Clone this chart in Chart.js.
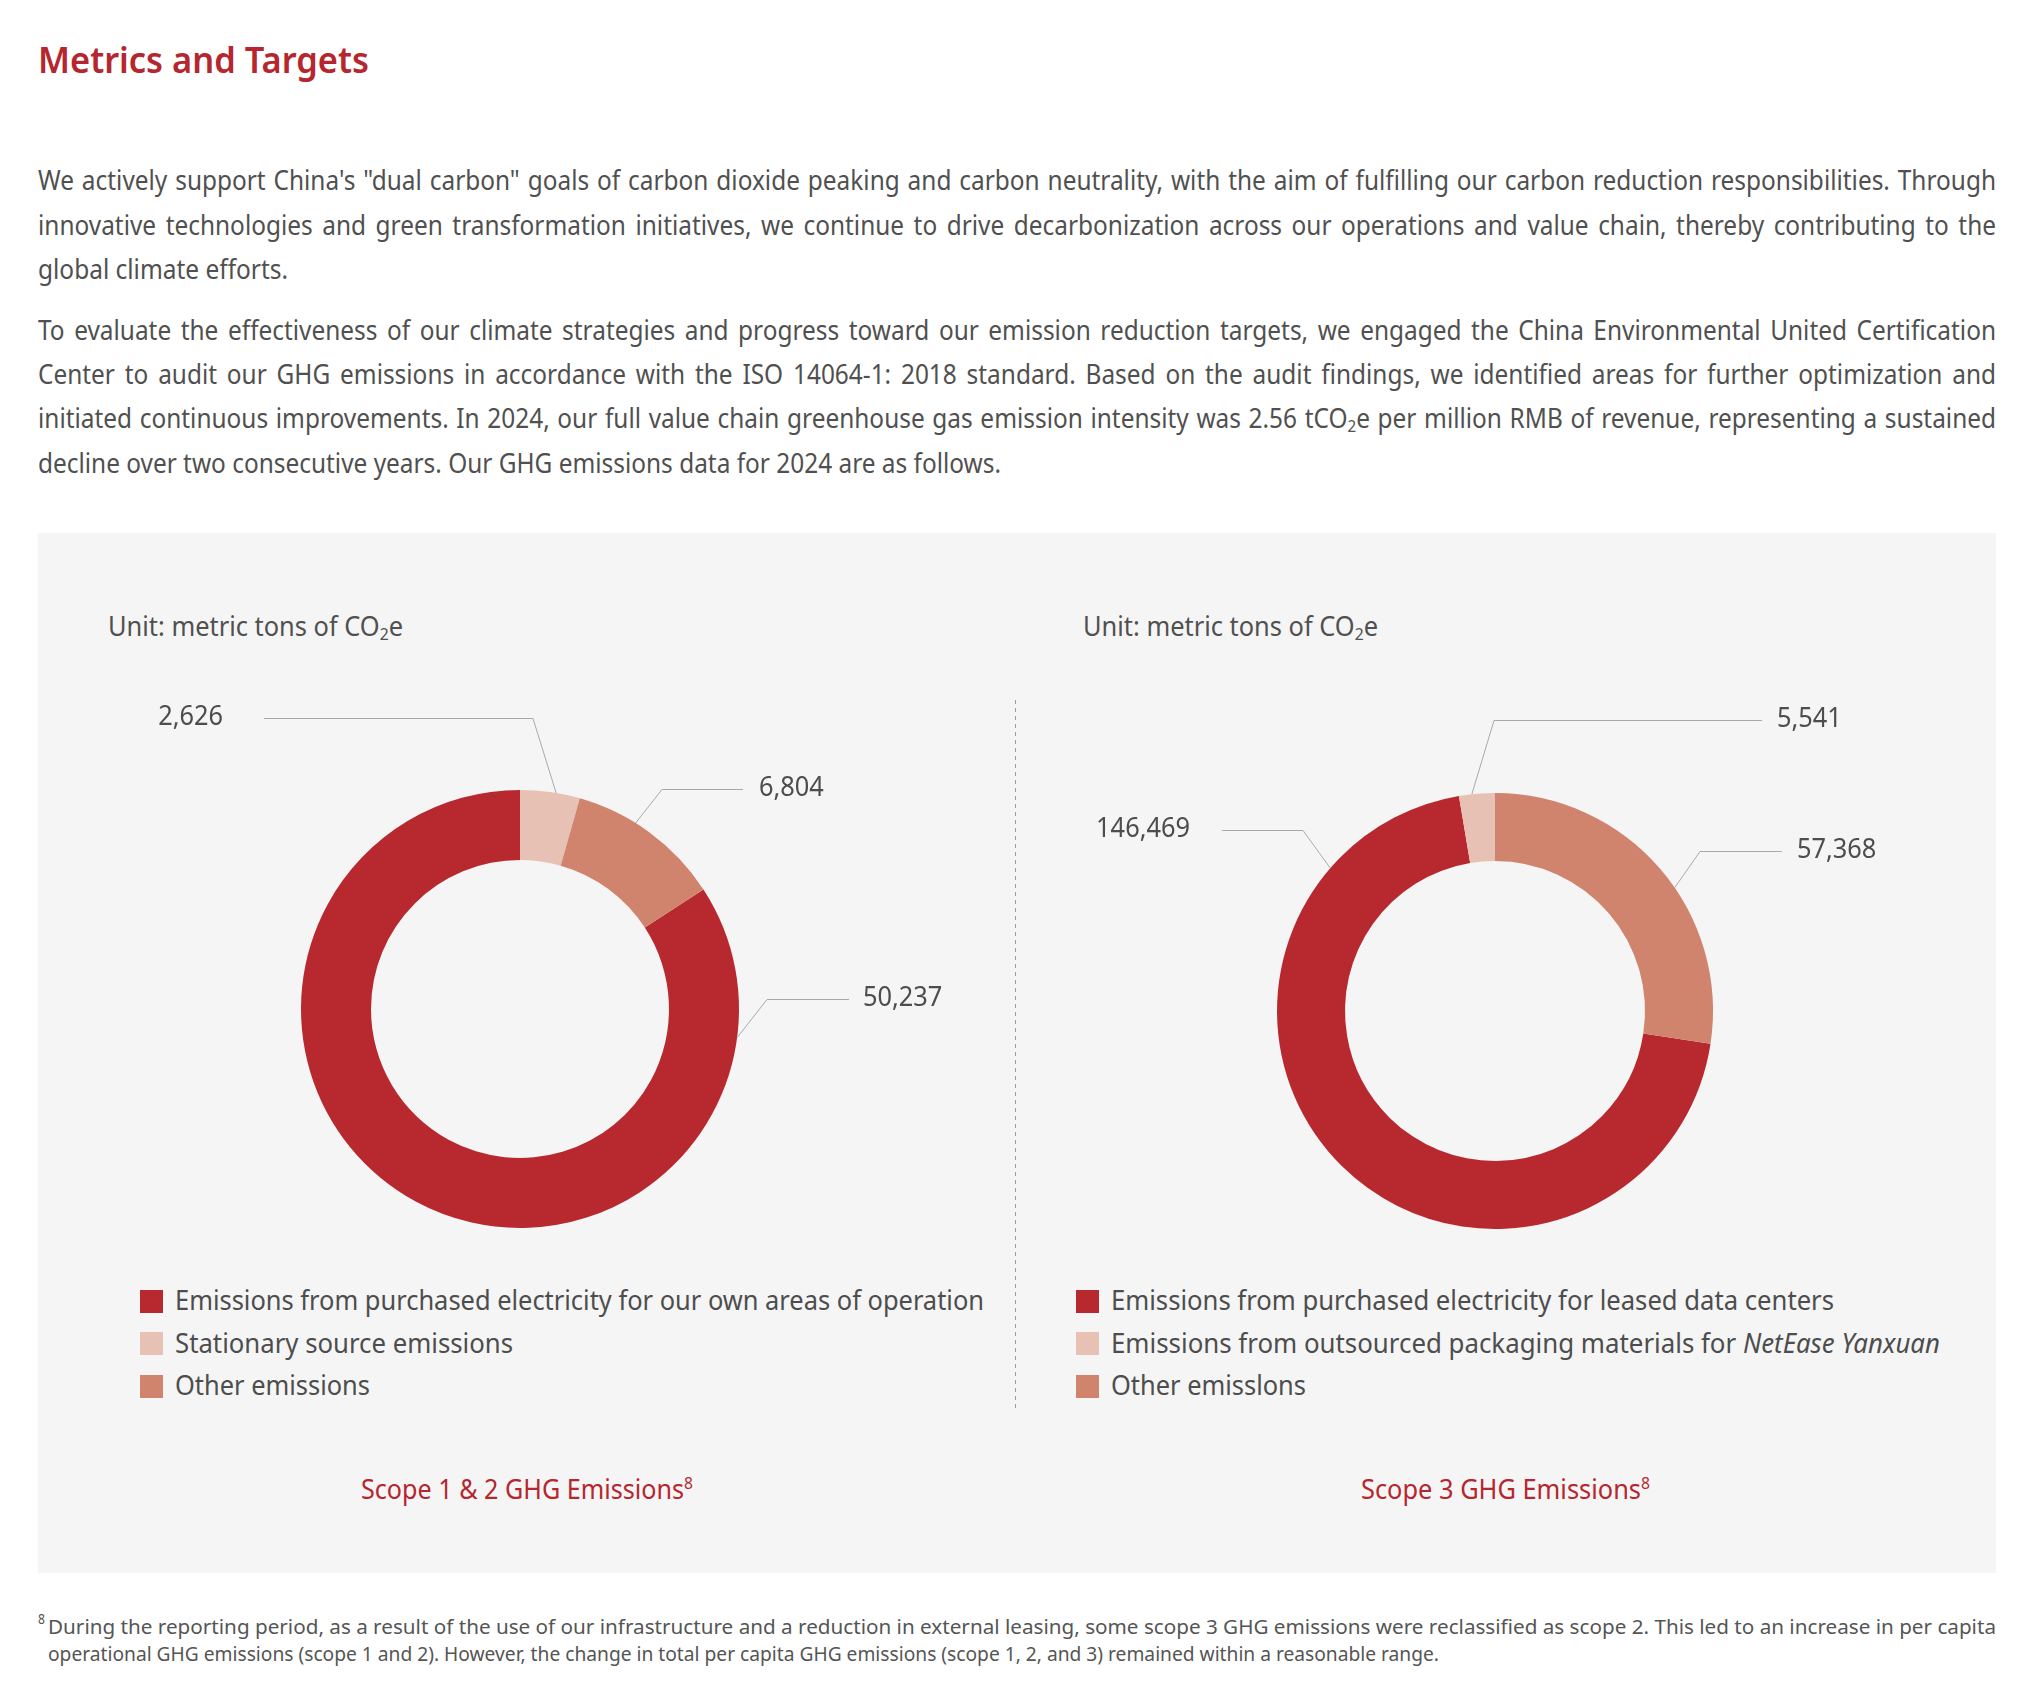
<!DOCTYPE html>
<html>
<head>
<meta charset="utf-8">
<title>Metrics and Targets</title>
<script src="https://cdn.jsdelivr.net/npm/chart.js@4.4.1/dist/chart.umd.min.js"></script>
<style>
  html, body { margin: 0; padding: 0; background: #fff; }
  body {
    width: 2038px; height: 1702px; position: relative; overflow: hidden;
    font-family: "Noto Sans", "Open Sans", sans-serif; color: #505050;
  }
  .t { position: absolute; white-space: nowrap; transform-origin: 0 50%; }
  .red { color: #b5262e; }
  sub, sup { font-size: 0.62em; line-height: 0; }
  sub { vertical-align: -0.22em; }
  sup { vertical-align: 0.62em; }
  #panel { position: absolute; left: 38px; top: 533px; width: 1958px; height: 1040px; background: #f5f5f5; }
  #divider {
    position: absolute; left: 1015px; top: 700px; width: 1px; height: 708px;
    background: repeating-linear-gradient(to bottom, #9c9c9c 0 4px, transparent 4px 8px);
  }
  canvas { position: absolute; }
  .swatch { position: absolute; width: 23px; height: 23px; }
</style>
</head>
<body>
<div id="panel"></div>
<div id="divider"></div>

<div class="t red" style="font-weight:600" data-x="38" data-y="61" data-f="36" data-w="331">Metrics and Targets</div>

<div class="t" data-x="38" data-y="181" data-f="26.5" data-w="1958" data-g="body" data-j="1">We actively support China's "dual carbon" goals of carbon dioxide peaking and carbon neutrality, with the aim of fulfilling our carbon reduction responsibilities. Through</div>
<div class="t" data-x="38" data-y="226" data-f="26.5" data-w="1958" data-g="body" data-j="1">innovative technologies and green transformation initiatives, we continue to drive decarbonization across our operations and value chain, thereby contributing to the</div>
<div class="t" data-x="38" data-y="270" data-f="26.5" data-w="250" data-g="body">global climate efforts.</div>

<div class="t" data-x="38" data-y="331" data-f="26.5" data-w="1958" data-g="body" data-j="1">To evaluate the effectiveness of our climate strategies and progress toward our emission reduction targets, we engaged the China Environmental United Certification</div>
<div class="t" data-x="38" data-y="375" data-f="26.5" data-w="1958" data-g="body" data-j="1">Center to audit our GHG emissions in accordance with the ISO 14064-1: 2018 standard. Based on the audit findings, we identified areas for further optimization and</div>
<div class="t" data-x="38" data-y="419" data-f="26.5" data-w="1958" data-g="body" data-j="1">initiated continuous improvements. In 2024, our full value chain greenhouse gas emission intensity was 2.56 tCO<sub>2</sub>e per million RMB of revenue, representing a sustained</div>
<div class="t" data-x="38" data-y="464" data-f="26.5" data-w="963" data-g="body">decline over two consecutive years. Our GHG emissions data for 2024 are as follows.</div>

<div class="t" data-x="108" data-y="627.5" data-f="26.5" data-w="295">Unit: metric tons of CO<sub>2</sub>e</div>
<div class="t" data-x="1083" data-y="627.5" data-f="26.5" data-w="295">Unit: metric tons of CO<sub>2</sub>e</div>

<canvas id="scope12" width="978" height="740" style="left:38px;top:533px"></canvas>
<canvas id="scope3" width="980" height="740" style="left:1016px;top:533px"></canvas>

<div id="legend12"></div>
<div id="legend3"></div>

<div class="t red" data-x="361" data-y="1490.5" data-f="26.5" data-w="332">Scope 1 &amp; 2 GHG Emissions<sup>8</sup></div>
<div class="t red" data-x="1361" data-y="1490.5" data-f="26.5" data-w="289">Scope 3 GHG Emissions<sup>8</sup></div>

<div class="t" style="color:#555" data-x="38" data-y="1620" data-f="13.5" data-w="7">8</div>
<div class="t" style="color:#555" data-x="48" data-y="1627" data-f="20.5" data-w="1948">During the reporting period, as a result of the use of our infrastructure and a reduction in external leasing, some scope 3 GHG emissions were reclassified as scope 2. This led to an increase in per capita</div>
<div class="t" style="color:#555" data-x="48" data-y="1654" data-f="20.5" data-w="1391">operational GHG emissions (scope 1 and 2). However, the change in total per capita GHG emissions (scope 1, 2, and 3) remained within a reasonable range.</div>

<script>
// ---- data ----
const scope12Labels = [
  'Emissions from purchased electricity for our own areas of operation',
  'Stationary source emissions',
  'Other emissions'
];
const scope12Values = [50237, 2626, 6804];

const scope3Labels = [
  'Emissions from purchased electricity for leased data centers',
  'Emissions from outsourced packaging materials for NetEase Yanxuan',
  'Other emisslons'
];
const scope3Values = [146469, 5541, 57368];

const sliceColors = ['#b7282f', '#e7c2b4', '#d0836d'];

// ---- layout (positions only) ----
// where each doughnut sits on the page, and which slice starts at 12 o'clock
const layout12 = { left: 38, top: 533, cx: 520, cy: 1009, r: 219, cut: 149, topSlice: 1 };
const layout3 = { left: 1016, top: 533, cx: 1495, cy: 1011, r: 218, cut: 150, topSlice: 2 };

// leader lines: t = position along the slice, elbow relative to centre, dir/len of the flat part
const leaders12 = [
  { t: 0.134, ex: 247, ey: -10, dir: 1, len: 82, gap: 14 },
  { t: 0.6, ex: 13, ey: -291, dir: -1, len: 269, gap: 41 },
  { t: 0.39, ex: 142, ey: -220, dir: 1, len: 81, gap: 16 }
];
const leaders3 = [
  { t: 0.843, ex: -192, ey: -181, dir: -1, len: 81, gap: 32 },
  { t: 0.36, ex: -1, ey: -291, dir: 1, len: 268, gap: 15 },
  { t: 0.563, ex: 205, ey: -160, dir: 1, len: 82, gap: 15 }
];

const legend12Layout = { sq: 140, text: 175, widths: [809, 338, 195] };
const legend3Layout = { sq: 1076, text: 1111, widths: [723, 829, 195] };
const legendRows = [1301, 1343.5, 1386];

function layoutText() {
  const els = document.querySelectorAll('.t');
  const groups = {};
  els.forEach(el => {
    const f = parseFloat(el.dataset.f);
    const L = Math.round(f * 1.4);
    el.style.fontSize = f + 'px';
    el.style.lineHeight = L + 'px';
    el.style.left = el.dataset.x + 'px';
    el.style.top = (parseFloat(el.dataset.y) - L / 2 - 0.03 * f) + 'px';
    el._nat = el.getBoundingClientRect().width;
    const g = el.dataset.g;
    if (g && !el.dataset.j) {
      groups[g] = groups[g] || { t: 0, n: 0 };
      groups[g].t += +el.dataset.w;
      groups[g].n += el._nat;
    }
  });
  els.forEach(el => {
    const w = +el.dataset.w;
    if (!w) return;
    if (el.dataset.j) {
      // keep the glyph squeeze of the paragraph, stretch the spaces to justify
      const k = groups[el.dataset.g].t / groups[el.dataset.g].n;
      const spaces = (el.textContent.match(/ /g) || []).length;
      el.style.wordSpacing = ((w / k - el._nat) / spaces) + 'px';
      el.style.transform = `scaleX(${k})`;
    } else {
      el.style.transform = `scaleX(${w / el._nat})`;
    }
  });
}

function buildLegend(id, labels, lay) {
  const box = document.getElementById(id);
  labels.forEach((label, i) => {
    const sw = document.createElement('div');
    sw.className = 'swatch';
    sw.style.left = lay.sq + 'px';
    sw.style.top = (legendRows[i] - 11.5) + 'px';
    sw.style.background = sliceColors[i];
    box.appendChild(sw);

    const txt = document.createElement('div');
    txt.className = 't';
    txt.style.color = '#4d4d4d';
    txt.dataset.x = lay.text;
    txt.dataset.y = legendRows[i];
    txt.dataset.f = 27;
    txt.dataset.w = lay.widths[i];
    txt.innerHTML = label.replace('NetEase Yanxuan', '<i>NetEase Yanxuan</i>');
    box.appendChild(txt);
  });
}

const leaderPlugin = (items) => ({
  id: 'leaders',
  afterDatasetsDraw(chart) {
    const ctx = chart.ctx;
    const values = chart.data.datasets[0].data;
    chart.getDatasetMeta(0).data.forEach((arc, i) => {
      const cfg = items[i];
      const a = arc.startAngle + cfg.t * (arc.endAngle - arc.startAngle);
      const sx = arc.x + arc.outerRadius * Math.cos(a);
      const sy = arc.y + arc.outerRadius * Math.sin(a);
      const ex = arc.x + cfg.ex;
      const ey = Math.round(arc.y + cfg.ey) + 0.5;
      const endX = ex + cfg.dir * cfg.len;

      ctx.save();
      ctx.strokeStyle = '#a9a9a9';
      ctx.lineWidth = 1;
      ctx.beginPath();
      ctx.moveTo(sx, sy);
      ctx.lineTo(ex, ey);
      ctx.lineTo(endX, ey);
      ctx.stroke();

      ctx.fillStyle = '#4d4d4d';
      ctx.font = '27px "Noto Sans", "Open Sans", sans-serif';
      ctx.textBaseline = 'middle';
      ctx.textAlign = cfg.dir > 0 ? 'left' : 'right';
      ctx.translate(endX + cfg.dir * cfg.gap, ey - 1);
      ctx.scale(0.94, 1);
      ctx.fillText(values[i].toLocaleString('en-US'), 0, 0);
      ctx.restore();
    });
  }
});

function makeDoughnut(id, values, lay, leaders) {
  const canvas = document.getElementById(id);
  const total = values.reduce((s, v) => s + v, 0);
  const before = values.slice(0, lay.topSlice).reduce((s, v) => s + v, 0);
  const cx = lay.cx - lay.left;
  const cy = lay.cy - lay.top;

  return new Chart(canvas.getContext('2d'), {
    type: 'doughnut',
    data: {
      labels: values.map((v, i) => i),
      datasets: [{
        data: values,
        backgroundColor: sliceColors,
        borderWidth: 0,
        hoverOffset: 0
      }]
    },
    options: {
      responsive: false,
      animation: false,
      devicePixelRatio: 1,
      radius: lay.r,
      cutout: lay.cut,
      rotation: -before / total * 360,
      layout: {
        padding: {
          left: cx - lay.r,
          right: canvas.width - cx - lay.r,
          top: cy - lay.r,
          bottom: canvas.height - cy - lay.r
        }
      },
      plugins: {
        legend: { display: false },
        tooltip: { enabled: false }
      },
      events: []
    },
    plugins: [leaderPlugin(leaders)]
  });
}

buildLegend('legend12', scope12Labels, legend12Layout);
buildLegend('legend3', scope3Labels, legend3Layout);

function render() {
  layoutText();
  makeDoughnut('scope12', scope12Values, layout12, leaders12);
  makeDoughnut('scope3', scope3Values, layout3, leaders3);
}

if (document.fonts && document.fonts.ready) {
  document.fonts.ready.then(render);
} else {
  render();
}
</script>
</body>
</html>
